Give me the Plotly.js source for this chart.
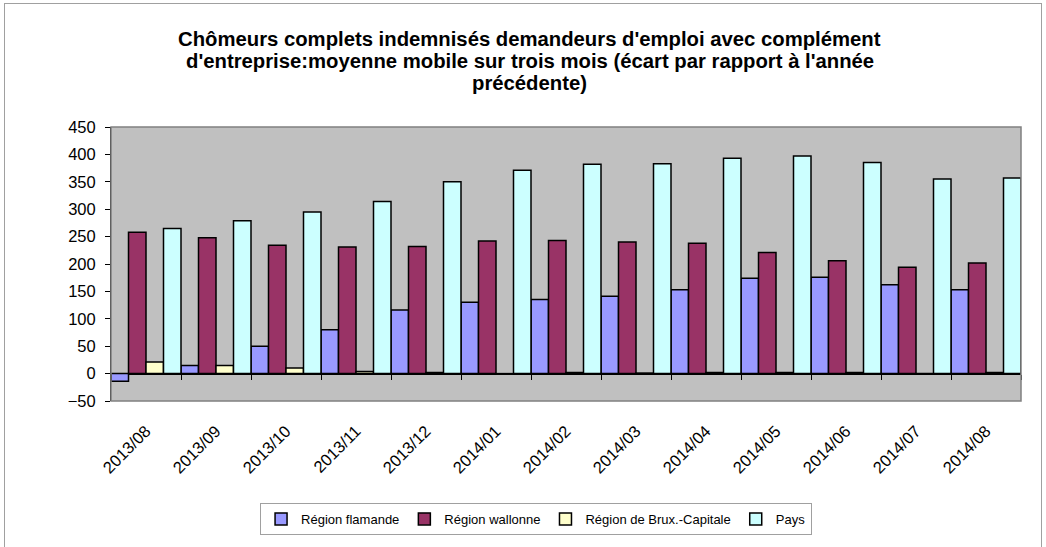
<!DOCTYPE html>
<html><head><meta charset="utf-8">
<script src="https://cdn.plot.ly/plotly-3.0.1.min.js"></script>
<style>
body{margin:0;padding:0;background:#fff;}
#wrap{position:relative;width:1046px;height:547px;}
#chart{width:1046px;height:547px;}
#frame{position:absolute;left:4px;top:3px;width:1036px;height:548px;border:1px solid #a0a0a0;pointer-events:none;}
</style></head>
<body><div id="wrap"><div id="chart"></div><div id="frame"></div></div>
<script>
const months = ["2013/08","2013/09","2013/10","2013/11","2013/12","2014/01","2014/02","2014/03","2014/04","2014/05","2014/06","2014/07","2014/08"];
const flamande = [-14, 15, 50, 80, 116, 130, 135, 141, 153, 174, 176, 162, 153];
const wallonne = [258, 248, 234, 231, 232, 242, 243, 240, 238, 221, 206, 194, 202];
const bruxelles = [21, 15, 10, 4, 2, -1, 2, 1, 2, 2, 2, 0, 2];
const pays = [265, 279, 295, 314, 350, 371, 382, 383, 393, 397, 385, 355, 357];
const seriesNames = ["Région flamande","Région wallonne","Région de Brux.-Capitale","Pays"];
const colors = ["#9999FF","#993366","#FFFFCC","#CCFFFF"];
const yTicks = [-50,0,50,100,150,200,250,300,350,400,450];
const titleLines = ["Chômeurs complets indemnisés demandeurs d'emploi avec complément",
  "d'entreprise:moyenne mobile sur trois mois (écart par rapport à l'année",
  "précédente)"];

const allSeries = [flamande, wallonne, bruxelles, pays];
const traces = allSeries.map((vals,i)=>({
  type:'bar', x:months, y:vals, name:seriesNames[i],
  marker:{color:colors[i], line:{color:'#000', width:1.5}},
  hoverinfo:'x+y+name'
}));
// invisible helper trace so the boundary-tick axis (at y = 0) is drawn
const idx = months.map((m,i)=>i);
traces.push({type:'scatter', mode:'markers', x:idx, y:flamande, xaxis:'x2', showlegend:false,
  marker:{opacity:0}, hoverinfo:'skip'});
const boundaries = months.map((m,i)=>i-0.5).concat([months.length-0.5]);

const font = {family:'"Liberation Sans", Arial, sans-serif', color:'#000'};
const titleY = [1.322, 1.240, 1.160];
const annotations = titleLines.map((t,i)=>({
  text:t, xref:'paper', yref:'paper', x:0.4604, y:titleY[i], xanchor:'center', yanchor:'middle',
  showarrow:false, font:Object.assign({size:20.3, weight:'bold'}, font)
}));
const layout = {
  width:1046, height:547,
  margin:{l:111, r:25, t:127, b:146},
  paper_bgcolor:'#fff', plot_bgcolor:'#C0C0C0',
  font: Object.assign({size:15}, font),
  annotations: annotations,
  barmode:'group', bargap:0, bargroupgap:0,
  xaxis:{type:'category', categoryarray:months, categoryorder:'array', tickangle:-45,
    ticks:'outside', ticklen:13, tickcolor:'rgba(0,0,0,0)', showline:false, showgrid:false, zeroline:false,
    tickfont:Object.assign({size:16.5}, font), range:[-0.5,12.5]},
  xaxis2:{type:'linear', overlaying:'x', anchor:'free', position:0.1, range:[-0.5,12.5], layer:'above traces',
    tickmode:'array', tickvals:boundaries, ticks:'outside', ticklen:5, tickcolor:'#000', tickwidth:1,
    showticklabels:false, showgrid:false, showline:false, zeroline:false},
  yaxis:{range:[-50,450], tickvals:yTicks, ticks:'outside', ticklen:5, tickcolor:'#000', showgrid:false,
    showline:true, linecolor:'#000', linewidth:1, zeroline:true, zerolinecolor:'#000', zerolinewidth:2,
    ticklabelstandoff:6, tickfont:Object.assign({size:16.5}, font)},
  shapes:[{type:'rect', xref:'paper', yref:'paper', x0:0, x1:1, y0:0, y1:1, line:{color:'#808080', width:1.5}, layer:'above'}],
  legend:{orientation:'h', x:0.1638, xanchor:'left', y:-0.372, yanchor:'top', bordercolor:'#a0a0a0', borderwidth:1,
    font:Object.assign({size:13}, font), traceorder:'normal'},
  showlegend:true
};
Plotly.newPlot('chart', traces, layout, {displayModeBar:false, staticPlot:true});
</script></body></html>
